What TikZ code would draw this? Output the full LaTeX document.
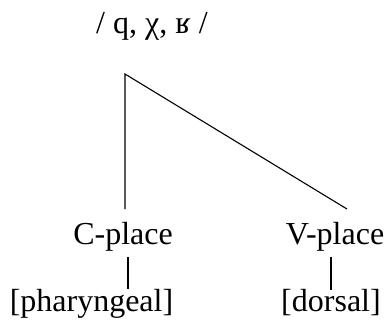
\documentclass[tikz,border=0pt]{standalone}
\usepackage{fontspec}
\setmainfont{Liberation Serif}
\begin{document}
\begin{tikzpicture}[x=0.5pt,y=-0.5pt,
  lbl/.style={anchor=base,inner sep=0pt,font=\fontsize{16}{19}\selectfont},
  branch/.style={draw=black,line width=0.55pt}]
\useasboundingbox (0,0) rectangle (390,329);
\node[lbl] (top) at (152,33) {/ q, χ, ʁ /};
\coordinate (apex) at (125,74);
\coordinate (cend) at (125,209);
\coordinate (vend) at (347,209);
\node[lbl] (cplace) at (123,244) {C-place};
\node[lbl] (vplace) at (335,244) {V-place};
\coordinate (c1) at (128,257);
\coordinate (c2) at (128,289);
\coordinate (v1) at (331,257);
\coordinate (v2) at (331,290);
\node[lbl] (phar) at (91.5,311) {[pharyngeal]};
\node[lbl] (dors) at (331,311) {[dorsal]};
\draw[branch] (cend) -- (apex) -- (vend);
\draw[branch] (c1) -- (c2);
\draw[branch] (v1) -- (v2);
\end{tikzpicture}
\end{document}
